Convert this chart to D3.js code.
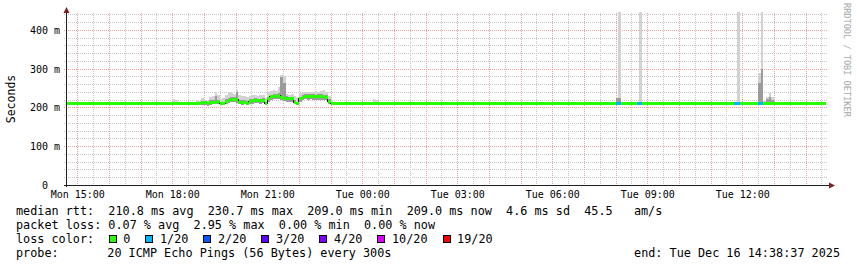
<!DOCTYPE html>
<html>
<head>
<meta charset="utf-8">
<script src="https://cdn.jsdelivr.net/npm/d3@7"></script>
<style>
  body { margin: 0; background: #fff; }
  svg { display: block; }
  text { font-family: "DejaVu Sans Mono", monospace; fill: #000; white-space: pre; }
</style>
</head>
<body>
<script>
'use strict';

// ---- data ----
const stepSec = 300;
const endTime = new Date(2025, 11, 16, 14, 38, 37);
const startTime = new Date(+endTime - 864e5);
const baseMedian = 209; // ms, flat for most of the day

// busy evening, one sample every 5 min starting Mon 18:55 (ms)
const busyStart = new Date(2025, 11, 15, 18, 55);
const busyMedian = [213,213,209,212,214,213,215,210,210,216, 219,221,221,220,214,213,214,211,215,217,
                    218,218,217,218,209,222,227,229,229,230, 226,224,223,222,222,214,210,222,226,229,
                    228,229,228,227,228,228,227,226,215,209, 209];
const busyUpper  = [217,216,212,218,220,229,220,214,215,221, 225,227,226,240,220,218,219,216,221,223,
                    224,223,222,224,214,228,233,235,235,237, 279,264,229,228,228,220,215,228,232,235,
                    234,235,234,233,234,234,233,232,221,212, 209];
const busyMax    = [224,220,217,227,230,240,231,223,225,233, 239,241,235,244,233,229,229,227,229,231,
                    233,229,231,233,225,239,243,245,243,252, 283,281,235,233,235,229,225,237,239,241,
                    239,239,241,243,241,243,245,239,229,218, 212];
const busyMin    = [207,207,205,207,208,208,209,206,206,209, 211,213,213,212,208,207,208,206,209,210,
                    211,211,210,211,206,213,219,221,221,222, 218,216,215,214,214,208,206,213,218,221,
                    220,221,220,219,220,220,219,218,208,206, 206];

// isolated samples outside the busy stretch
const spikeTimes = ["2025-12-15 18:00","2025-12-15 18:05","2025-12-15 18:30","2025-12-15 18:45","2025-12-15 18:50",
                    "2025-12-16 00:20","2025-12-16 00:25","2025-12-16 08:00","2025-12-16 08:05","2025-12-16 08:40",
                    "2025-12-16 08:45","2025-12-16 10:05","2025-12-16 10:10","2025-12-16 11:45","2025-12-16 11:50",
                    "2025-12-16 12:30","2025-12-16 12:35","2025-12-16 12:40","2025-12-16 12:45","2025-12-16 12:50",
                    "2025-12-16 12:55"];
const spikeUpper = [209,209,209,209,209, 209,209,225,224,209, 212,209,209,209,212, 262,300,214,222,226, 218];
const spikeMax   = [222,220,214,219,216, 222,220,225,600,209, 600,214,214,209,600, 290,600,216,228,238, 226];
const spikeLoss  = [0,0,0,0,0, 0,0,1,1,1, 1,0,0,1,1, 1,1,0,0,0, 0];

const lossLabels = ["0", "1/20", "2/20", "3/20", "4/20", "10/20", "19/20"];
const lossColors = ["#26ff00", "#00b8ff", "#0059ff", "#5e00ff", "#7e00ff", "#dd00ff", "#ff0000"];

const rttStats  = [210.8, 230.7, 209.0, 209.0, 4.6]; // avg max min now sd (ms)
const amPerSec  = 45.5;
const lossStats = [0.07, 2.95, 0.00, 0.00];          // avg max min now (%)
const probeText = "20 ICMP Echo Pings (56 Bytes) every 300s";

// ---- assemble samples ----
const parseT = d3.timeParse("%Y-%m-%d %H:%M");
const sampleTimes = d3.timeMinute.every(5).range(startTime, endTime);
const samples = sampleTimes.map(t => ({t, med: baseMedian, lo: baseMedian, up: baseMedian, hi: baseMedian, loss: 0}));
const byKey = new Map(samples.map(s => [+s.t, s]));
busyMedian.forEach((m, i) => {
  const s = byKey.get(+busyStart + i * stepSec * 1000);
  if (!s) return;
  s.med = m; s.up = busyUpper[i]; s.hi = busyMax[i]; s.lo = busyMin[i];
});
spikeTimes.forEach((ts, i) => {
  const s = byKey.get(+parseT(ts));
  if (!s) return;
  s.lo = 208; s.up = spikeUpper[i]; s.hi = spikeMax[i]; s.loss = spikeLoss[i];
});

// ---- layout ----
const W = 857, H = 267,
      plotL = 66, plotR = 826, plotT = 14, plotB = 185;

const x = d3.scaleTime().domain([startTime, endTime]).range([plotL, plotR]);
const y = d3.scaleLinear().domain([0, 0.441]).range([plotB, plotT]);
const ms = v => y(v / 1000);
const tNext = t => new Date(+t + stepSec * 1000);

const svg = d3.select("body").append("svg")
  .attr("xmlns", "http://www.w3.org/2000/svg")
  .attr("width", W).attr("height", H)
  .style("background", "#fff");

svg.append("clipPath").attr("id", "plot")
  .append("rect").attr("x", plotL).attr("y", plotT - 2)
  .attr("width", plotR - plotL).attr("height", plotB - plotT + 2);

// grid
const grid = svg.append("g").attr("shape-rendering", "crispEdges");
const yMinor = d3.range(0, 23).map(i => i * 0.02).filter(v => Math.round(v * 100) % 10 !== 0);
const yMajor = d3.range(0, 5).map(i => i * 0.1);
const xMinor = d3.timeMinute.every(30).range(startTime, endTime).filter(t => t.getMinutes() !== 0);
const xMajor = d3.timeHour.range(startTime, endTime);
const minorCol = "#c6c6c6", majorCol = "#eba2a2";

grid.selectAll(".ymin").data(yMinor).join("line")
  .attr("x1", plotL - 2).attr("x2", plotR + 2)
  .attr("y1", d => Math.round(y(d)) + 0.5).attr("y2", d => Math.round(y(d)) + 0.5)
  .attr("stroke", minorCol).attr("stroke-dasharray", "1,1");
grid.selectAll(".xmin").data(xMinor).join("line")
  .attr("x1", d => Math.round(x(d)) + 0.5).attr("x2", d => Math.round(x(d)) + 0.5)
  .attr("y1", plotT - 1).attr("y2", plotB + 2)
  .attr("stroke", minorCol).attr("stroke-dasharray", "1,1");
grid.selectAll(".ymaj").data(yMajor).join("line")
  .attr("x1", plotL - 2).attr("x2", plotR + 2)
  .attr("y1", d => Math.round(y(d)) + 0.5).attr("y2", d => Math.round(y(d)) + 0.5)
  .attr("stroke", majorCol).attr("stroke-dasharray", "1,1");
grid.selectAll(".xmaj").data(xMajor).join("line")
  .attr("x1", d => Math.round(x(d)) + 0.5).attr("x2", d => Math.round(x(d)) + 0.5)
  .attr("y1", plotT - 1).attr("y2", plotB + 2)
  .attr("stroke", majorCol).attr("stroke-dasharray", "1,1");

// smoke
const plot = svg.append("g").attr("clip-path", "url(#plot)").attr("shape-rendering", "crispEdges");
plot.selectAll(".outer").data(samples.filter(s => s.hi > s.lo)).join("rect")
  .attr("x", d => x(d.t)).attr("width", d => x(tNext(d.t)) - x(d.t))
  .attr("y", d => ms(d.hi)).attr("height", d => ms(d.lo) - ms(d.hi))
  .attr("fill", "#d2d2d2");
plot.selectAll(".inner").data(samples.filter(s => s.up > s.lo)).join("rect")
  .attr("x", d => x(d.t)).attr("width", d => x(tNext(d.t)) - x(d.t))
  .attr("y", d => ms(d.up)).attr("height", d => ms(d.lo) - ms(d.up))
  .attr("fill", "#9c9c9c");

// median: thin dark step line, then loss-coloured stripe
const medLine = d3.line().curve(d3.curveStepAfter)
  .x(d => x(d.t)).y(d => ms(d.med));
const last = samples[samples.length - 1];
plot.append("path")
  .datum(samples.concat([{t: tNext(last.t), med: last.med}]))
  .attr("fill", "none").attr("stroke", "#202020").attr("stroke-width", 1)
  .attr("d", medLine);
plot.selectAll(".med").data(samples).join("rect")
  .attr("x", d => x(d.t)).attr("width", d => x(tNext(d.t)) - x(d.t))
  .attr("y", d => ms(d.med) - 1.5).attr("height", 3)
  .attr("fill", d => lossColors[d.loss]);

// axes lines + arrows
svg.append("line").attr("x1", plotL - 2).attr("x2", plotR + 4)
  .attr("y1", plotB + 0.5).attr("y2", plotB + 0.5)
  .attr("stroke", "#202020").attr("shape-rendering", "crispEdges");
svg.append("line").attr("x1", plotL + 0.5).attr("x2", plotL + 0.5)
  .attr("y1", plotB + 2).attr("y2", plotT - 3)
  .attr("stroke", "#202020").attr("shape-rendering", "crispEdges");
svg.append("path").attr("fill", "#7f1f1f")
  .attr("d", `M${plotR + 3},${plotB - 2.5}L${plotR + 9},${plotB + 0.5}L${plotR + 3},${plotB + 3.5}Z`);
svg.append("path").attr("fill", "#7f1f1f")
  .attr("d", `M${plotL - 2.5},${plotT - 1}L${plotL + 0.5},${plotT - 7}L${plotL + 3.5},${plotT - 1}Z`);

// tick labels through d3 axes
const xLabels = d3.timeHour.every(3).range(startTime, endTime);
const xAxis = svg.append("g").attr("transform", `translate(0,${plotB})`)
  .call(d3.axisBottom(x).tickValues(xLabels).tickFormat(d3.timeFormat("%a %H:%M")).tickSize(0).tickPadding(6));
xAxis.select(".domain").remove();
xAxis.selectAll("text").attr("font-size", "10px").attr("font-family", "DejaVu Sans Mono");

const yAxis = svg.append("g").attr("transform", `translate(${plotL},0)`)
  .call(d3.axisLeft(y).tickValues(yMajor).tickFormat(v => v === 0 ? "0" : Math.round(v * 1000) + " m").tickSize(0).tickPadding(6));
yAxis.select(".domain").remove();
yAxis.selectAll("text").attr("font-size", "10px").attr("font-family", "DejaVu Sans Mono")
  .attr("dy", "0.35em")
  .attr("x", v => v === 0 ? -18 : -6);

svg.append("text").attr("transform", `translate(15,99) rotate(-90)`)
  .attr("text-anchor", "middle").attr("font-size", "11.5px").text("Seconds");

svg.append("text").attr("transform", `translate(844,3) rotate(90)`)
  .attr("font-size", "8.6px").style("fill", "#a8a8a8").text("RRDTOOL / TOBI OETIKER");

// legend
const lg = svg.append("g").attr("font-size", "11.8px");
const line = (xx, yy, s) => lg.append("text").attr("x", xx).attr("y", yy)
  .attr("xml:space", "preserve").style("white-space", "pre").text(s);
const f1 = d3.format(".1f"), f2 = d3.format(".2f");
line(16, 215, `median rtt:  ${f1(rttStats[0])} ms avg  ${f1(rttStats[1])} ms max  ${f1(rttStats[2])} ms min  ${f1(rttStats[3])} ms now  ${f1(rttStats[4])} ms sd  ${f1(amPerSec)}   am/s`);
line(16, 229, `packet loss: ${f2(lossStats[0])} % avg  ${f2(lossStats[1])} % max  ${f2(lossStats[2])} % min  ${f2(lossStats[3])} % now`);
line(16, 243, "loss color:");
let cx = 108.7;
lossLabels.forEach((lab, i) => {
  lg.append("rect").attr("x", cx + 0.5).attr("y", 235.5).attr("width", 7).attr("height", 7)
    .attr("fill", lossColors[i]).attr("stroke", "#000").attr("shape-rendering", "crispEdges");
  line(cx + 14.6, 243, lab);
  cx += 14.6 + lab.length * 7.1 + 15;
});
line(16, 257, "probe:");
line(107.3, 257, probeText);
line(840, 257, "end: " + d3.timeFormat("%a %b %d %H:%M:%S %Y")(endTime)).attr("text-anchor", "end");
</script>
</body>
</html>
